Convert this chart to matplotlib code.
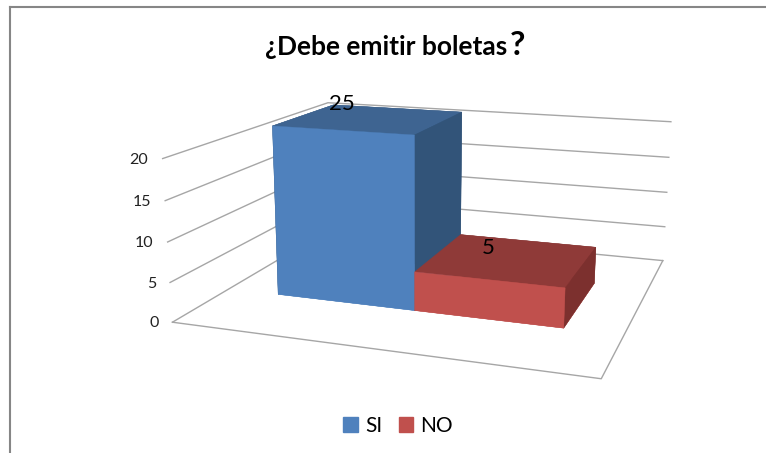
import numpy as np
import matplotlib
matplotlib.use("Agg")
import matplotlib.pyplot as plt
from matplotlib.lines import Line2D
from matplotlib.patches import Patch

categories = ["SI", "NO"]
data_labels = [25, 5]
bar_heights = [22, 5]    # the SI bar is drawn about 22 high in the picture, though labelled 25
ticks = [0, 5, 10, 15, 20]
colors_front = ["#4F81BD", "#C0504D"]
colors_top = ["#3E6491", "#8F3A38"]
colors_side = ["#325479", "#7C302E"]
label_x = [0.098, 1.211]
label_depth = [0.99, 0.588]
label_z = [20, 5]

W, H = 766, 453
plt.rcParams['font.family'] = ['Lato', 'DejaVu Sans']

# camera calibration: box corners (x, depth, value) -> picture pixels
calib_world = [(0, 0, 0), (0, 0, 5), (0, 0, 20), (2, 0, 0), (2, 1, 0), (2, 1, 5), (2, 1, 10),
               (2, 1, 15), (2, 1, 20), (0, 1, 20)]
calib_px = [(172.7, 322.3), (169.7, 282.3), (162.7, 158.7), (601.3, 378.7), (662.7, 260.7),
            (665, 226.7), (666.7, 192.3), (668.7, 157.3), (671, 121.7), (328, 102.7)]


def fit_camera(world, px):
    rows = []
    for (x, y, z), (u, v) in zip(world, px):
        rows.append([x, y, z, 1, 0, 0, 0, 0, -u * x, -u * y, -u * z, -u])
        rows.append([0, 0, 0, 0, x, y, z, 1, -v * x, -v * y, -v * z, -v])
    return np.linalg.svd(np.array(rows, float))[2][-1].reshape(3, 4)


P = fit_camera(calib_world, calib_px)
if P[2, 3] < 0:
    P = -P


def to_fig(x, y, z):
    h = P @ np.array([x, y, z, 1.0])
    return h[0] / h[2] / W, 1 - h[1] / h[2] / H


fig = plt.figure(figsize=(W / 100, H / 100), dpi=100)
ax = fig.add_axes([0, 0, 1, 1], projection='3d')
ax.apply_aspect = lambda position=None: None   # keep the axes over the whole figure
ax.set_proj_type('ortho')                      # no depth clipping of the lines
ax.set_axis_off()
ax.set_facecolor('none')


def excel_proj():
    # pixels -> the 2D view limits of the axes; third row only orders the faces
    vl = ax.viewLim
    row_x = vl.x0 * P[2] + vl.width / W * P[0]
    row_y = vl.y1 * P[2] - vl.height / H * P[1]
    row_z = 0.002 * np.array([-0.2, 1.0, -0.003, 0.0])
    return np.array([row_x, row_y, row_z, P[2]])


ax.get_proj = excel_proj

# walls and floor
grid = dict(color="#A6A6A6", lw=1.0)
for t in ticks:
    ax.plot([0, 0, 2], [0, 1, 1], [t, t, t], **grid)
    fx, fy = to_fig(-0.075, 0, t - 0.35)
    fig.text(fx, fy, str(t), ha='right', va='center', fontsize=11.5, color="#222222")
ax.plot([0, 2, 2], [0, 0, 1], [0, 0, 0], **grid)

# bars
bar_left = [0.275, 1.0]
face_colors = []
for front, top, side in zip(colors_front, colors_top, colors_side):
    face_colors += [front, top, front, side, side, side]  # -z +z -y +y -x +x
ax.bar3d(bar_left, [0.3, 0.3], [0, 0], [0.725, 0.725], [0.4, 0.4], bar_heights,
         color=face_colors, shade=False, linewidth=0.3, edgecolor=face_colors)

for x, y, z, lab in zip(label_x, label_depth, label_z, data_labels):
    fx, fy = to_fig(x, y, z)
    fig.text(fx, fy, str(lab), ha='center', va='center', fontsize=16, color="black")

# title: the question mark is set larger in the original
fig.text(265 / W, 1 - 55 / H, "¿Debe emitir boletas", fontsize=19, fontweight='bold', color="black",
         ha='left', va='baseline')
fig.text(510 / W, 1 - 55 / H, "?", fontsize=24, fontweight='bold', color="black", ha='left', va='baseline')

handles = [Patch(facecolor=c, edgecolor=c, label=n) for c, n in zip(colors_front, categories)]
fig.legend(handles=handles, loc='center', bbox_to_anchor=(398 / W, 1 - 426 / H), ncol=2, frameon=False,
           fontsize=15, handlelength=0.7, handleheight=0.7, handletextpad=0.35, columnspacing=0.8,
           borderpad=0, labelcolor="black")

# chart border, only left and top fall inside the crop
for xs, ys in [([10 / W, 10 / W], [0, 1 - 7 / H]), ([10 / W, 1], [1 - 7 / H, 1 - 7 / H])]:
    fig.add_artist(Line2D(xs, ys, color="#868686", lw=1.5, zorder=200))

fig.savefig("out.png", dpi=100)
